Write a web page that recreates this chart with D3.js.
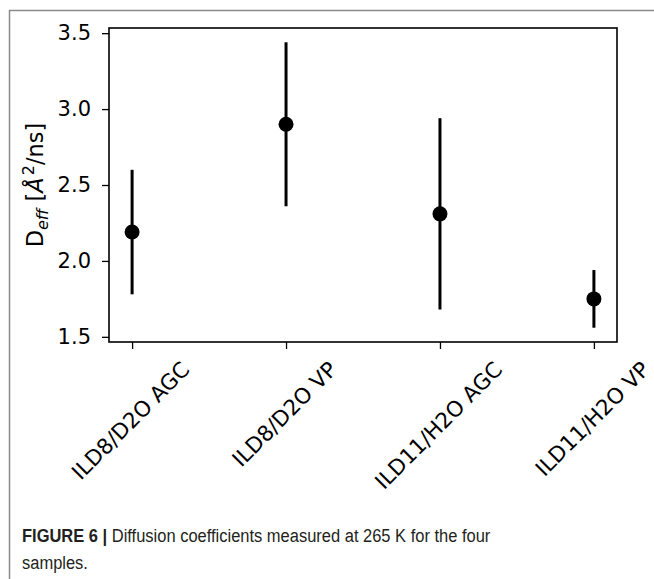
<!DOCTYPE html>
<html>
<head>
<meta charset="utf-8">
<script src="https://cdn.jsdelivr.net/npm/d3@7"></script>
<style>
  body { margin: 0; background: #fff; }
  svg { display: block; }
</style>
</head>
<body>
<div id="chart"></div>
<script>
// samples and measured D_eff (with symmetric error)
const categories = ['ILD8/D2O AGC', 'ILD8/D2O VP', 'ILD11/H2O AGC', 'ILD11/H2O VP'];
const deff = [2.19, 2.90, 2.31, 1.75];
const deffErr = [0.41, 0.54, 0.63, 0.19];
const yTicks = [1.5, 2.0, 2.5, 3.0, 3.5];
const captionBold = 'FIGURE 6 | ';
const captionLines = ['Diffusion coefficients measured at 265 K for the four', 'samples.'];

const WIDTH = 654, HEIGHT = 579;
const MARGIN = { top: 28, right: 37, bottom: 237, left: 109 };
const FONT = 'DejaVu Sans, sans-serif';
const LABEL_SIZE = 21.5;

const svg = d3.select('#chart').append('svg')
  .attr('width', WIDTH)
  .attr('height', HEIGHT);

// gray frame of the figure panel
svg.append('line')
  .attr('x1', 9).attr('x2', WIDTH).attr('y1', 10.5).attr('y2', 10.5)
  .attr('stroke', '#8a8a8a').attr('stroke-width', 1.5);
svg.append('line')
  .attr('x1', 9.5).attr('x2', 9.5).attr('y1', 10).attr('y2', HEIGHT)
  .attr('stroke', '#8a8a8a').attr('stroke-width', 1.5);

const idx = d3.range(categories.length);
const x = d3.scaleLinear()
  .domain([-0.15, categories.length - 1 + 0.15])
  .range([MARGIN.left, WIDTH - MARGIN.right]);

const lo = d3.min(idx, i => deff[i] - deffErr[i]);
const hi = d3.max(idx, i => deff[i] + deffErr[i]);
const pad = (hi - lo) * 0.05;
const y = d3.scaleLinear()
  .domain([lo - pad, hi + pad])
  .range([HEIGHT - MARGIN.bottom, MARGIN.top]);

// axes
const yAxis = svg.append('g')
  .attr('transform', `translate(${MARGIN.left},0)`)
  .call(d3.axisLeft(y).tickValues(yTicks).tickFormat(d3.format('.1f')).tickSize(7).tickPadding(11));
const xAxis = svg.append('g')
  .attr('transform', `translate(0,${HEIGHT - MARGIN.bottom})`)
  .call(d3.axisBottom(x).tickValues(idx).tickFormat(() => '').tickSize(7));

[yAxis, xAxis].forEach(g => {
  g.select('.domain').remove();
  g.selectAll('.tick line').attr('stroke', '#000').attr('stroke-width', 1.3);
});
yAxis.selectAll('.tick text')
  .attr('font-family', FONT).attr('font-size', 21).attr('fill', '#000');

// box around plot area
svg.append('rect')
  .attr('x', MARGIN.left).attr('y', MARGIN.top)
  .attr('width', WIDTH - MARGIN.right - MARGIN.left)
  .attr('height', HEIGHT - MARGIN.bottom - MARGIN.top)
  .attr('fill', 'none').attr('stroke', '#000').attr('stroke-width', 1.6);

// rotated category labels, centred under the ticks
const labelGap = 16;
xAxis.selectAll('.tick').each(function(d) {
  const t = d3.select(this).append('text')
    .attr('font-family', FONT).attr('font-size', LABEL_SIZE).attr('fill', '#000')
    .attr('text-anchor', 'middle')
    .attr('dominant-baseline', 'central')
    .text(categories[d]);
  const len = t.node().getComputedTextLength();
  const h = (len + LABEL_SIZE) * Math.SQRT1_2;
  t.attr('transform', `translate(-2,${labelGap + h / 2}) rotate(-45)`);
});

// error bars and points
const marks = svg.append('g');
marks.selectAll('line.err')
  .data(idx)
  .enter().append('line')
  .attr('class', 'err')
  .attr('x1', i => x(i)).attr('x2', i => x(i))
  .attr('y1', i => y(deff[i] - deffErr[i]))
  .attr('y2', i => y(deff[i] + deffErr[i]))
  .attr('stroke', '#000').attr('stroke-width', 3);
marks.selectAll('circle')
  .data(idx)
  .enter().append('circle')
  .attr('cx', i => x(i)).attr('cy', i => y(deff[i]))
  .attr('r', 7.5).attr('fill', '#000');

// y label: D_eff [Å²/ns]
const yl = svg.append('text')
  .attr('transform', `translate(43,${(MARGIN.top + HEIGHT - MARGIN.bottom) / 2}) rotate(-90)`)
  .attr('text-anchor', 'middle')
  .attr('font-family', FONT).attr('font-size', 22.5).attr('fill', '#000');
yl.append('tspan').text('D');
yl.append('tspan').attr('font-size', 16).attr('font-style', 'italic').attr('dy', 5).text('eff');
yl.append('tspan').attr('dy', -5).text(' [');
yl.append('tspan').attr('font-style', 'italic').text('Å');
yl.append('tspan').attr('font-size', 16).attr('dy', -9).attr('dx', 2).text('2');
yl.append('tspan').attr('dy', 9).text('/ns]');

// caption (condensed look via horizontal scale)
const cap = svg.append('g')
  .attr('transform', 'translate(22,0) scale(0.916,1)')
  .attr('font-family', '"Liberation Sans", Arial, sans-serif')
  .attr('font-size', 18).attr('fill', '#231f20');
const c1 = cap.append('text').attr('x', 0).attr('y', 542);
c1.append('tspan').attr('font-weight', 'bold').text(captionBold);
c1.append('tspan').text(captionLines[0]);
cap.append('text').attr('x', 0).attr('y', 569).text(captionLines[1]);
</script>
</body>
</html>
